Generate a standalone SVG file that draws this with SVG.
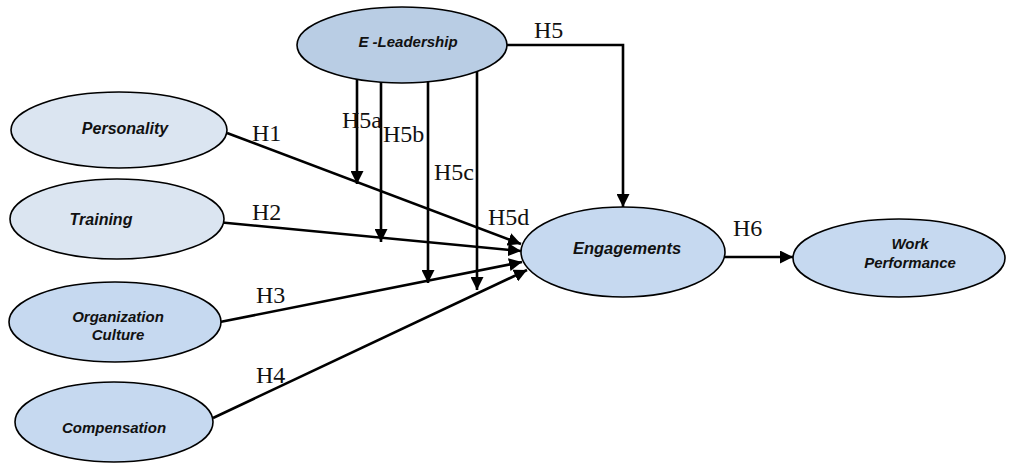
<svg xmlns="http://www.w3.org/2000/svg" width="1010" height="464" viewBox="0 0 1010 464">
<style>
.node ellipse{stroke:#000;stroke-width:1.6}
.light{fill:#dbe5f1}
.mid{fill:#c6d9f0}
.dark{fill:#b9cde4}
.nt{font-family:"Liberation Sans",Arial,sans-serif;font-weight:bold;font-style:italic;font-size:15px;fill:#111;text-anchor:middle}
.lbl{font-family:"Liberation Serif","Times New Roman",serif;font-size:24px;fill:#111}
#connectors line,#connectors polyline{stroke:#000;stroke-width:2.6;fill:none}
</style>
<defs>
<marker id="arr" viewBox="0 0 12 12" refX="12" refY="6" markerWidth="13" markerHeight="13" markerUnits="userSpaceOnUse" orient="auto">
<path d="M0,0 L12,6 L0,12 z" fill="#000"/>
</marker>
</defs>
<rect width="1010" height="464" fill="#fff"/>
<g id="connectors">
<line x1="227" y1="133" x2="521" y2="244" marker-end="url(#arr)"/>
<line x1="217" y1="222" x2="521" y2="251" marker-end="url(#arr)"/>
<line x1="220" y1="322" x2="522" y2="262" marker-end="url(#arr)"/>
<line x1="213" y1="418" x2="527" y2="270" marker-end="url(#arr)"/>
<line x1="357" y1="79" x2="357" y2="184" marker-end="url(#arr)"/>
<line x1="381" y1="81" x2="381" y2="242" marker-end="url(#arr)"/>
<line x1="428" y1="81" x2="428" y2="283" marker-end="url(#arr)"/>
<line x1="477" y1="71" x2="477" y2="290" marker-end="url(#arr)"/>
<polyline points="507,45 623,45 623,207" marker-end="url(#arr)"/>
<line x1="725" y1="257" x2="793" y2="257" marker-end="url(#arr)"/>
<text class="lbl" x="252" y="141">H1</text>
<text class="lbl" x="252" y="220">H2</text>
<text class="lbl" x="256" y="303">H3</text>
<text class="lbl" x="256" y="383">H4</text>
<text class="lbl" x="534" y="38">H5</text>
<text class="lbl" x="342" y="128">H5a</text>
<text class="lbl" x="383" y="142">H5b</text>
<text class="lbl" x="434" y="180">H5c</text>
<text class="lbl" x="488" y="225">H5d</text>
<text class="lbl" x="733" y="236">H6</text>
</g>
<g id="e-leadership" class="node">
<ellipse class="dark" cx="402" cy="45" rx="105" ry="38"/>
<text class="nt" x="408" y="47">E -Leadership</text>
</g>
<g id="personality" class="node">
<ellipse class="light" cx="119" cy="130" rx="108" ry="38"/>
<text class="nt" x="125" y="134" style="font-size:16px">Personality</text>
</g>
<g id="training" class="node">
<ellipse class="light" cx="117" cy="219" rx="107" ry="40"/>
<text class="nt" x="101" y="225" style="font-size:16px">Training</text>
</g>
<g id="organization-culture" class="node">
<ellipse class="mid" cx="115" cy="322" rx="106" ry="40"/>
<text class="nt" x="118" y="322">Organization</text>
<text class="nt" x="118" y="340">Culture</text>
</g>
<g id="compensation" class="node">
<ellipse class="mid" cx="114" cy="422" rx="99" ry="40"/>
<text class="nt" x="114" y="433">Compensation</text>
</g>
<g id="engagements" class="node">
<ellipse class="mid" cx="623" cy="252" rx="102" ry="45"/>
<text class="nt" x="627" y="254" style="font-size:16.5px">Engagements</text>
</g>
<g id="work-performance" class="node">
<ellipse class="mid" cx="899" cy="258" rx="106" ry="39"/>
<text class="nt" x="910" y="249">Work</text>
<text class="nt" x="910" y="268">Performance</text>
</g>
</svg>
